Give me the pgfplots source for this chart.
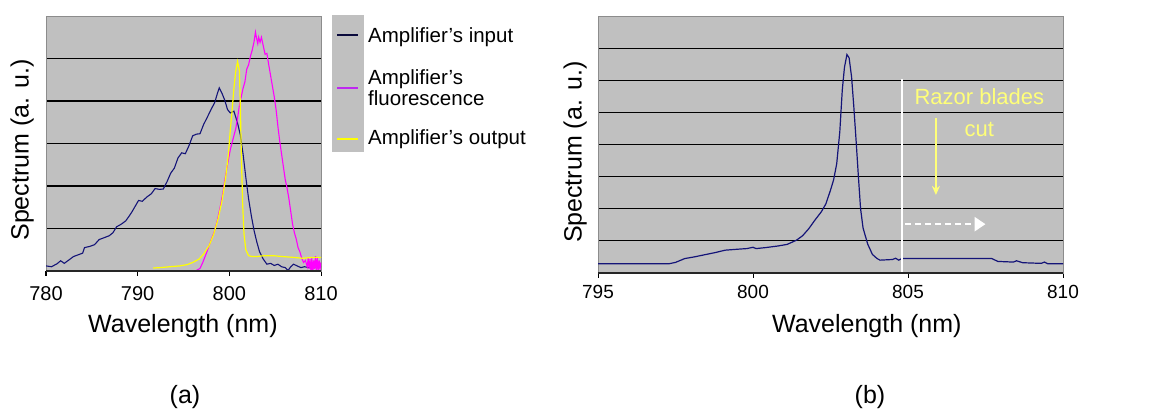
\documentclass[border=0pt]{standalone}
\usepackage{pgfplots}
\pgfplotsset{compat=1.18}
\usepackage{fontspec}
\setmainfont{Liberation Sans}
\usetikzlibrary{arrows.meta}
\definecolor{bggray}{RGB}{192,192,192}
\definecolor{framegray}{RGB}{140,140,140}
\definecolor{inblue}{RGB}{20,20,120}
\definecolor{fluo}{RGB}{255,0,255}
\definecolor{outyel}{RGB}{255,255,0}
\definecolor{paleyel}{RGB}{255,255,120}
\definecolor{legblue}{RGB}{10,10,60}
\definecolor{legmag}{RGB}{190,40,240}

\pgfplotstableread{
x y
780.0 0.12
780.6 0.10
781.2 0.17
781.6 0.24
782.0 0.18
782.5 0.26
783.0 0.34
783.5 0.38
784.0 0.42
784.2 0.55
784.8 0.58
785.3 0.62
785.8 0.74
786.3 0.78
786.9 0.83
787.3 0.90
787.7 1.04
788.2 1.10
788.7 1.18
789.1 1.30
789.4 1.40
789.8 1.55
790.1 1.66
790.5 1.64
791.0 1.74
791.5 1.82
791.9 1.94
792.4 1.92
792.8 1.93
793.2 2.10
793.6 2.30
794.0 2.42
794.4 2.66
794.8 2.78
795.2 2.76
795.6 2.95
796.0 3.18
796.4 3.22
796.8 3.23
797.2 3.45
797.6 3.62
798.0 3.80
798.4 3.96
798.7 4.18
798.9 4.31
799.2 4.18
799.5 4.02
799.8 3.80
800.1 3.72
800.5 3.76
800.9 3.48
801.2 3.20
801.5 2.75
801.8 2.20
802.1 1.70
802.4 1.30
802.7 0.95
803.0 0.68
803.3 0.45
803.7 0.28
804.1 0.16
804.5 0.18
804.9 0.13
805.3 0.16
805.7 0.10
806.1 0.08
806.4 0.01
806.7 0.10
807.0 0.16
807.4 0.12
807.8 0.08
808.2 0.10
808.7 0.08
809.3 0.10
810.0 0.09
}\inputA

\pgfplotstableread{
x y
795.7 -0.05
796.3 0.00
796.8 0.06
797.1 0.20
797.5 0.42
797.8 0.60
798.1 0.78
798.4 0.95
798.7 1.20
799.0 1.50
799.3 1.85
799.5 2.13
799.8 2.50
800.1 2.85
800.4 3.10
800.7 3.35
800.9 3.60
801.1 3.90
801.3 4.10
801.5 4.30
801.7 4.45
801.9 4.75
802.1 4.85
802.3 5.05
802.5 5.20
802.7 5.40
802.85 5.62
802.95 5.50
803.1 5.35
803.2 5.50
803.35 5.38
803.5 5.50
803.7 5.30
803.9 5.10
804.1 5.12
804.3 4.85
804.5 4.60
804.7 4.35
804.9 4.10
805.1 3.80
805.3 3.40
805.5 3.05
805.7 2.75
805.9 2.45
806.1 2.15
806.3 1.95
806.5 1.70
806.7 1.40
806.9 1.10
807.1 0.90
807.3 0.75
807.5 0.55
807.7 0.45
807.9 0.30
808.1 0.20
808.3 0.25
808.5 0.10
808.6 0.30
808.7 0.05
808.8 0.28
808.9 0.00
809.0 0.30
809.1 -0.05
809.2 0.25
809.3 0.05
809.4 0.35
809.5 -0.05
809.6 0.30
809.7 0.00
809.8 0.25
809.9 0.05
810.0 0.20
}\fluoA

\pgfplotstableread{
x y
791.7 0.07
792.5 0.08
793.5 0.10
794.6 0.12
795.4 0.15
796.0 0.20
796.7 0.28
797.2 0.40
797.8 0.60
798.3 0.87
798.8 1.25
799.2 1.65
799.6 2.20
799.9 2.75
800.1 3.30
800.3 3.77
800.5 4.30
800.7 4.70
800.9 4.93
801.1 4.71
801.2 3.90
801.3 2.83
801.45 1.60
801.6 0.87
801.8 0.50
802.1 0.36
802.5 0.34
803.0 0.34
803.8 0.36
804.8 0.36
805.8 0.34
807.0 0.32
808.0 0.30
809.0 0.32
810.0 0.32
}\outA

\pgfplotstableread{
x y
795.0 0.29
797.3 0.29
797.5 0.33
797.8 0.45
798.1 0.50
798.5 0.58
798.8 0.64
799.1 0.71
799.5 0.74
799.8 0.76
800.0 0.80
800.1 0.76
800.4 0.79
800.8 0.84
801.1 0.89
801.4 1.02
801.6 1.16
801.8 1.38
802.0 1.65
802.2 1.90
802.35 2.15
802.5 2.58
802.6 2.90
802.7 3.40
802.8 4.40
802.88 5.70
802.95 6.40
803.03 6.80
803.1 6.70
803.18 6.10
803.25 5.20
803.32 4.20
803.4 3.00
803.47 2.00
803.55 1.40
803.7 0.90
803.85 0.58
804.0 0.45
804.1 0.40
804.5 0.42
804.6 0.46
804.7 0.40
804.8 0.45
805.5 0.45
806.5 0.45
807.7 0.45
807.9 0.36
808.4 0.34
808.5 0.38
808.7 0.32
809.3 0.30
809.4 0.34
809.5 0.29
810.0 0.29
}\outB

\begin{document}
\begin{tikzpicture}
\path[use as bounding box] (0,0) rectangle (1158pt,414pt);

\begin{axis}[
  name=A,
  at={(46pt,143pt)}, anchor=south west, scale only axis,
  width=275pt, height=255pt,
  xmin=780, xmax=810, ymin=0, ymax=6,
  xtick={780,790,800,810}, ytick={1,2,3,4,5}, yticklabels={},
  xtick pos=bottom,
  ymajorgrids, grid style={black, line width=1.2pt},
  axis background/.style={fill=bggray},
  axis line style={draw=framegray, line width=0.8pt},
  tick align=outside, major tick length=5pt,
  xtick style={black, line width=1pt},
  ytick style={draw=none},
  /pgf/number format/assume math mode=true,
  /pgf/number format/1000 sep={},
  ticklabel style={font=\fontsize{20}{24}\selectfont},
  xticklabel style={yshift=-7pt},
  label style={font=\fontsize{25}{30}\selectfont},
  xlabel={Wavelength (nm)},
  ylabel={Spectrum (a. u.)},
  xlabel style={at={(axis description cs:0.498,-0.216)}, anchor=center},
  ylabel style={at={(axis description cs:-0.087,0.475)}, anchor=center},
]
\addplot[inblue, line width=1.1pt] table {\inputA};
\addplot[fluo, line width=1.1pt] table {\fluoA};
\addplot[outyel, line width=1.2pt] table {\outA};
\end{axis}
\draw[black!85, line width=1.3pt] (A.south west) -- (A.south east);

% legend
\fill[bggray] (332pt,262pt) rectangle (364pt,399pt);
\draw[legblue, line width=2pt] (337pt,379pt) -- (358pt,379pt);
\draw[legmag, line width=2pt] (337pt,326pt) -- (358pt,326pt);
\draw[outyel, line width=2pt] (337pt,275pt) -- (358pt,275pt);
\node[anchor=west, inner sep=0pt, font=\fontsize{20.5}{21}\selectfont] at (368pt,377pt) {Amplifier’s input};
\node[anchor=west, inner sep=0pt, align=left, font=\fontsize{20.5}{21}\selectfont] at (368pt,326pt) {Amplifier’s\\fluorescence};
\node[anchor=west, inner sep=0pt, font=\fontsize{20.5}{21}\selectfont] at (368pt,275pt) {Amplifier’s output};

\begin{axis}[
  name=B,
  at={(598pt,141pt)}, anchor=south west, scale only axis,
  width=465pt, height=257pt,
  xmin=795, xmax=810, ymin=0, ymax=8,
  xtick={795,800,805,810}, ytick={1,2,3,4,5,6,7}, yticklabels={},
  xtick pos=bottom,
  ymajorgrids, grid style={black, line width=1.2pt},
  axis background/.style={fill=bggray},
  axis line style={draw=framegray, line width=0.8pt},
  tick align=outside, major tick length=5pt,
  xtick style={black, line width=1pt},
  ytick style={draw=none},
  /pgf/number format/assume math mode=true,
  /pgf/number format/1000 sep={},
  ticklabel style={font=\fontsize{19}{23}\selectfont},
  xticklabel style={yshift=-4pt},
  label style={font=\fontsize{25}{30}\selectfont},
  xlabel={Wavelength (nm)},
  ylabel={Spectrum (a. u.)},
  xlabel style={at={(axis description cs:0.578,-0.206)}, anchor=center},
  ylabel style={at={(axis description cs:-0.049,0.47)}, anchor=center},
]
\addplot[inblue, line width=1.2pt] table {\outB};
\draw[white, line width=2pt] (axis cs:804.8,6.04) -- (axis cs:804.8,0);
\draw[white, line width=2.5pt, dash pattern=on 6pt off 4pt, -{Triangle[length=11pt,width=14pt]}] (axis cs:804.9,1.52) -- (axis cs:807.5,1.52);
\draw[paleyel, line width=1.5pt, -{Stealth[length=9pt,width=8pt]}] (axis cs:805.9,4.82) -- (axis cs:805.9,2.43);
\node[paleyel, align=center, font=\fontsize{22}{32}\selectfont] at (axis cs:807.3,5.0) {Razor blades\\cut};
\end{axis}
\draw[black!85, line width=1.3pt] (B.south west) -- (B.south east);

\node[font=\fontsize{25}{30}\selectfont] at (185pt,17pt) {(a)};
\node[font=\fontsize{25}{30}\selectfont] at (870pt,17pt) {(b)};
\end{tikzpicture}
\end{document}
